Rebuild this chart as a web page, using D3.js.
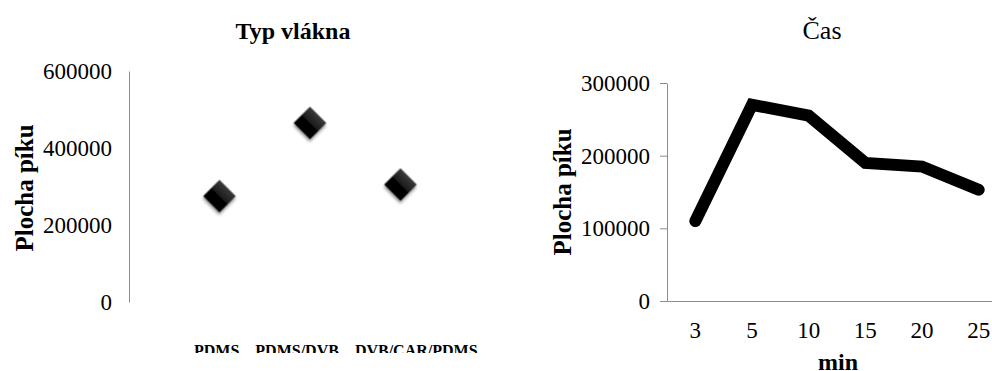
<!DOCTYPE html>
<html>
<head>
<meta charset="utf-8">
<script src="https://cdn.jsdelivr.net/npm/d3@7"></script>
<style>
  html, body { margin: 0; padding: 0; background: #fff; overflow: hidden; }
  svg { display: block; }
</style>
</head>
<body>
<svg id="chart" width="992" height="371"></svg>
<script>
// Fibre type comparison (left panel)
const fiberTypes = ["PDMS", "PDMS/DVB", "DVB/CAR/PDMS"];
const fiberArea = [275000, 465000, 305000];
const fiberTicks = [0, 200000, 400000, 600000];

// Extraction time series (right panel)
const timeMinutes = ["3", "5", "10", "15", "20", "25"];
const timeArea = [110000, 270000, 255000, 190000, 185000, 153000];
const timeTicks = [0, 100000, 200000, 300000];

const FONT = "Liberation Serif";
const svg = d3.select("#chart");
const axisColor = "#8c8c8c";
const tickFont = 23;

function addText(parent, str) {
  return parent.append("text").style("font-family", FONT).style("fill", "#000").text(str);
}

const defs = svg.append("defs");
const grad = defs.append("linearGradient")
  .attr("id", "diamondFill").attr("x1", 0).attr("y1", 0).attr("x2", 0).attr("y2", 1);
grad.append("stop").attr("offset", "0%").attr("stop-color", "#3a3a3a");
grad.append("stop").attr("offset", "48%").attr("stop-color", "#1c1c1c");
grad.append("stop").attr("offset", "52%").attr("stop-color", "#050505");
grad.append("stop").attr("offset", "100%").attr("stop-color", "#000");
const shadow = defs.append("filter").attr("id", "markerShadow")
  .attr("x", "-50%").attr("y", "-50%").attr("width", "200%").attr("height", "200%");
shadow.append("feDropShadow")
  .attr("dx", 1.5).attr("dy", 2).attr("stdDeviation", 1.6)
  .attr("flood-color", "#000").attr("flood-opacity", 0.45);
defs.append("clipPath").attr("id", "catClip")
  .append("rect").attr("x", 0).attr("y", 300).attr("width", 520).attr("height", 53);

function styleAxis(g) {
  g.selectAll("path.domain, line").attr("stroke", axisColor).attr("stroke-width", 1);
  g.selectAll("text")
    .style("font-family", FONT)
    .style("font-size", tickFont + "px")
    .style("fill", "#000");
}

/* ---------- Left panel: Typ vlákna ---------- */
const yL = d3.scaleLinear().domain([0, 600000]).range([302, 71]);
const xL = d3.scalePoint().domain(fiberTypes).range([129, 491]).padding(1);

addText(svg, "Typ vlákna")
  .attr("x", 293).attr("y", 39)
  .attr("text-anchor", "middle")
  .style("font-size", "24px").style("font-weight", "bold");

svg.append("g")
  .attr("transform", "translate(129,0)")
  .call(d3.axisLeft(yL).tickValues(fiberTicks).tickSize(0).tickSizeOuter(0)
        .tickPadding(17).tickFormat(d3.format("d")))
  .call(styleAxis);

addText(svg, "Plocha píku")
  .attr("transform", "translate(33,188) rotate(-90)")
  .attr("text-anchor", "middle")
  .style("font-size", "25px").style("font-weight", "bold");

const diamondPath = d3.symbol().type(d3.symbolSquare).size(530)();
svg.append("g").selectAll("path")
  .data(fiberTypes)
  .join("path")
  .attr("d", diamondPath)
  .attr("transform", (d, i) => `translate(${xL(d)},${yL(fiberArea[i])}) rotate(45)`)
  .attr("fill", "url(#diamondFill)")
  .attr("filter", "url(#markerShadow)");

// Category labels: centred on each point, then pushed apart so they keep a gap
const catLabels = svg.append("g").attr("clip-path", "url(#catClip)")
  .selectAll("text")
  .data(fiberTypes)
  .join("text")
  .attr("y", 356)
  .attr("text-anchor", "middle")
  .style("font-family", FONT)
  .style("font-size", "16px").style("font-weight", "bold")
  .style("fill", "#000")
  .text(d => d);
const widths = catLabels.nodes().map(n => n.getComputedTextLength());
const cx = fiberTypes.map(d => xL(d));
const minGap = 16;
for (let iter = 0; iter < 50; iter++) {
  for (let i = 0; i < cx.length - 1; i++) {
    const overlap = (cx[i] + widths[i] / 2 + minGap) - (cx[i + 1] - widths[i + 1] / 2);
    if (overlap > 0) { cx[i] -= overlap / 2; cx[i + 1] += overlap / 2; }
  }
}
catLabels.attr("x", (d, i) => cx[i]);

/* ---------- Right panel: Čas ---------- */
const yR = d3.scaleLinear().domain([0, 300000]).range([301, 83]);
const xR = d3.scaleBand().domain(timeMinutes).range([667, 1007]);

addText(svg, "Čas")
  .attr("x", 822).attr("y", 39)
  .attr("text-anchor", "middle")
  .style("font-size", "26px");

svg.append("g")
  .attr("transform", "translate(0,301)")
  .call(d3.axisBottom(xR).tickSize(0).tickSizeOuter(0).tickPadding(21))
  .call(styleAxis);

svg.append("g")
  .attr("transform", "translate(667,0)")
  .call(d3.axisLeft(yR).tickValues(timeTicks).tickSize(7).tickSizeOuter(0)
        .tickPadding(10).tickFormat(d3.format("d")))
  .call(styleAxis);

addText(svg, "Plocha píku")
  .attr("transform", "translate(571,192) rotate(-90)")
  .attr("text-anchor", "middle")
  .style("font-size", "25px").style("font-weight", "bold");

addText(svg, "min")
  .attr("x", 838).attr("y", 370)
  .attr("text-anchor", "middle")
  .style("font-size", "24px").style("font-weight", "bold");

const line = d3.line()
  .x((d, i) => xR(timeMinutes[i]) + xR.bandwidth() / 2)
  .y(d => yR(d));
svg.append("path")
  .datum(timeArea)
  .attr("d", line)
  .attr("fill", "none")
  .attr("stroke", "#000")
  .attr("stroke-width", 12)
  .attr("stroke-linecap", "round")
  .attr("stroke-linejoin", "miter");
</script>
</body>
</html>
